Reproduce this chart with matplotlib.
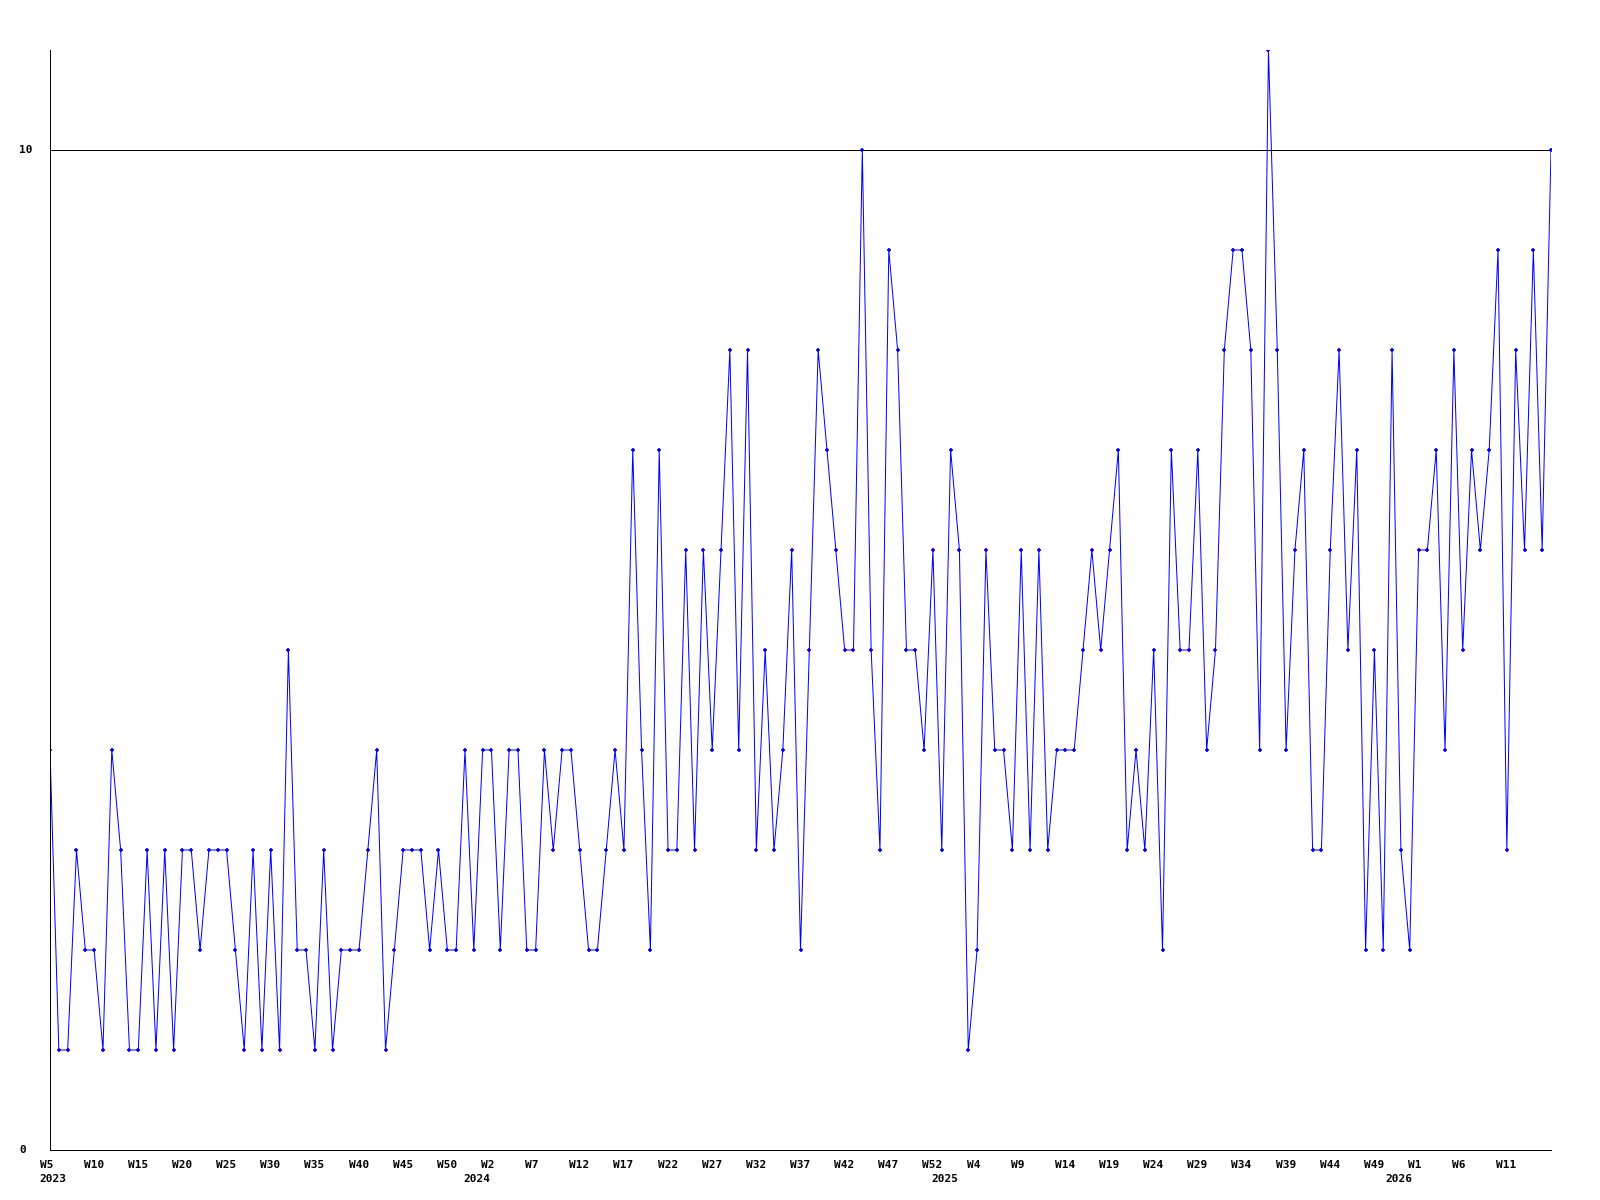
import matplotlib
matplotlib.use("Agg")
import matplotlib.pyplot as plt
import matplotlib.transforms as mtransforms

# valores semanais, de W5 2023 ate W16 2026
valores = [4, 1, 1, 3, 2, 2, 1, 4, 3, 1, 1, 3, 1, 3, 1, 3, 3, 2, 3, 3, 3, 2, 1, 3, 1, 3,
           1, 5, 2, 2, 1, 3, 1, 2, 2, 2, 3, 4, 1, 2, 3, 3, 3, 2, 3, 2, 2, 4, 2, 4, 4,
           2, 4, 4, 2, 2, 4, 3, 4, 4, 3, 2, 2, 3, 4, 3, 7, 4, 2, 7, 3, 3, 6, 3, 6, 4,
           6, 8, 4, 8, 3, 5, 3, 4, 6, 2, 5, 8, 7, 6, 5, 5, 10, 5, 3, 9, 8, 5, 5, 4,
           6, 3, 7, 6, 1, 2, 6, 4, 4, 3, 6, 3, 6, 3, 4, 4, 4, 5, 6, 5, 6, 7, 3, 4, 3,
           5, 2, 7, 5, 5, 7, 4, 5, 8, 9, 9, 8, 4, 11, 8, 4, 6, 7, 3, 3, 6, 8, 5, 7, 2,
           5, 2, 8, 3, 2, 6, 6, 7, 4, 8, 5, 7, 6, 7, 9, 3, 8, 6, 9, 6, 10]

# uma etiqueta a cada 5 semanas
semanas = ["W5", "W10", "W15", "W20", "W25", "W30", "W35", "W40", "W45", "W50",
           "W2", "W7", "W12", "W17", "W22", "W27", "W32", "W37", "W42", "W47", "W52",
           "W4", "W9", "W14", "W19", "W24", "W29", "W34", "W39", "W44", "W49",
           "W1", "W6", "W11"]
anos = ["2023", "2024", "2025", "2026"]
pos_anos = [0, 48, 101, 152.4]

y_ticks = [0, 10]

fonte = dict(fontfamily="DejaVu Sans Mono", fontweight="bold", fontsize=8, color="black")

fig = plt.figure(figsize=(16, 12), dpi=100)
ax = fig.add_axes([50 / 1600, 50 / 1200, 1501 / 1600, 1100 / 1200])

x = list(range(len(valores)))
ax.axhline(10, color="black", lw=0.72, zorder=1)
ax.plot(x, valores, color="#0000ff", lw=0.72, marker="+", ms=3.5, mew=1.2, zorder=2)

ax.set_xlim(0, len(valores) - 1)
ax.set_ylim(0, 11)
ax.spines["top"].set_visible(False)
ax.spines["right"].set_visible(False)
ax.spines["left"].set_linewidth(0.72)
ax.spines["bottom"].set_linewidth(0.72)
ax.set_xticks([])
ax.set_yticks([])

# etiquetas do eixo x (alinhadas a esquerda, como no original)
off_sem = mtransforms.ScaledTranslation(-10.5 / 100, -10 / 100, fig.dpi_scale_trans)
trans_sem = ax.get_xaxis_transform() + off_sem
for k, s in enumerate(semanas):
    ax.text(k * 5, 0, s, transform=trans_sem, ha="left", va="top", **fonte)

off_ano = mtransforms.ScaledTranslation(-10.5 / 100, -24 / 100, fig.dpi_scale_trans)
trans_ano = ax.get_xaxis_transform() + off_ano
for p, a in zip(pos_anos, anos):
    ax.text(p, 0, a, transform=trans_ano, ha="left", va="top", **fonte)

# etiquetas do eixo y
trans_y = mtransforms.blended_transform_factory(fig.transFigure, ax.transData)
for v in y_ticks:
    ax.text(19.5 / 1600, v, str(v), transform=trans_y, ha="left", va="center", **fonte)

fig.savefig("out.png", dpi=100)
